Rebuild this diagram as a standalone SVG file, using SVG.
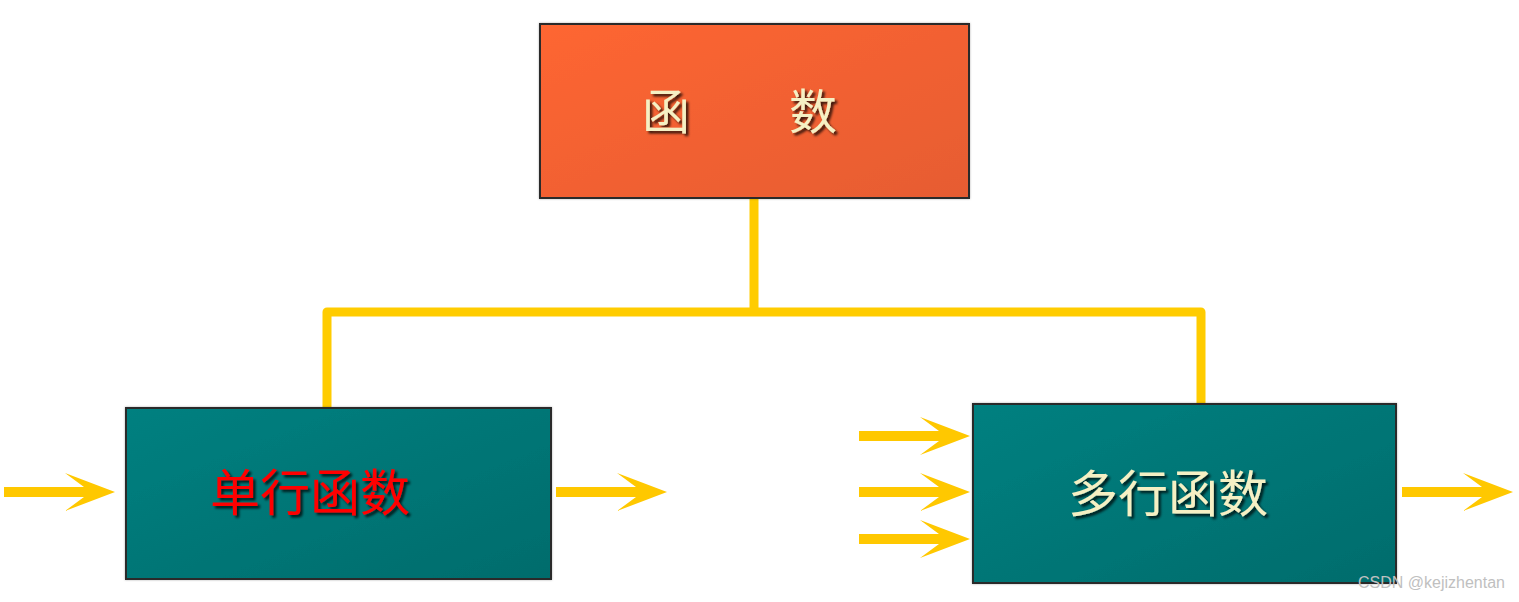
<svg xmlns="http://www.w3.org/2000/svg" width="1519" height="602" viewBox="0 0 1519 602">
<style>
.box{stroke:#2a2a2a;stroke-width:2}
.wire{fill:none;stroke:#ffcc00;stroke-width:9;stroke-linejoin:round}
.arrow{fill:#ffc800}
.lbl{font-family:"Noto Sans CJK SC",sans-serif;font-size:48px;text-anchor:middle;filter:url(#sh)}
.cream{fill:#f5f0c4}
.red{fill:#ff0000}
.wm{font-family:"Liberation Sans",Arial,sans-serif;font-size:16px;fill:#c0c0c0}
</style>
<defs>
<linearGradient id="gOrange" x1="0" y1="0" x2="1" y2="1">
<stop offset="0" stop-color="#fe6633"/>
<stop offset="1" stop-color="#e65c30"/>
</linearGradient>
<linearGradient id="gTeal" x1="0" y1="0" x2="1" y2="1">
<stop offset="0" stop-color="#008080"/>
<stop offset="1" stop-color="#006c6c"/>
</linearGradient>
<filter id="sh" x="-10%" y="-10%" width="130%" height="130%">
<feDropShadow dx="2.5" dy="2.5" stdDeviation="1" flood-color="#000" flood-opacity="0.75"/>
</filter>
<filter id="bs" x="-5%" y="-5%" width="110%" height="110%">
<feDropShadow dx="0" dy="0" stdDeviation="1" flood-color="#000" flood-opacity="0.3"/>
</filter>
<path id="arr" d="M0,0 L-50,-19 L-31,-5 L-111,-5 L-111,5 L-31,5 L-50,19 Z"/>
</defs>
<rect width="1519" height="602" fill="#ffffff"/>
<g id="connectors">
<path class="wire" d="M754,198 V312 M327,408 V312 H1201 V404"/>
<use href="#arr" class="arrow" transform="translate(115,492)"/>
<use href="#arr" class="arrow" transform="translate(667,492)"/>
<use href="#arr" class="arrow" transform="translate(970,436)"/>
<use href="#arr" class="arrow" transform="translate(970,492)"/>
<use href="#arr" class="arrow" transform="translate(970,539)"/>
<use href="#arr" class="arrow" transform="translate(1513,492)"/>
</g>
<g id="node-func">
<rect class="box" x="540" y="24" width="429" height="174" fill="url(#gOrange)" filter="url(#bs)"/>
<text class="lbl cream" x="666" y="129">函</text>
<text class="lbl cream" x="813" y="129">数</text>
</g>
<g id="node-single">
<rect class="box" x="126" y="408" width="425" height="171" fill="url(#gTeal)" filter="url(#bs)"/>
<text class="lbl red" x="310" y="511" style="font-size:50px">单行函数</text>
</g>
<g id="node-multi">
<rect class="box" x="973" y="404" width="423" height="179" fill="url(#gTeal)" filter="url(#bs)"/>
<text class="lbl cream" x="1168" y="512" style="font-size:50px">多行函数</text>
</g>
<text class="wm" x="1358" y="588">CSDN @kejizhentan</text>
</svg>
